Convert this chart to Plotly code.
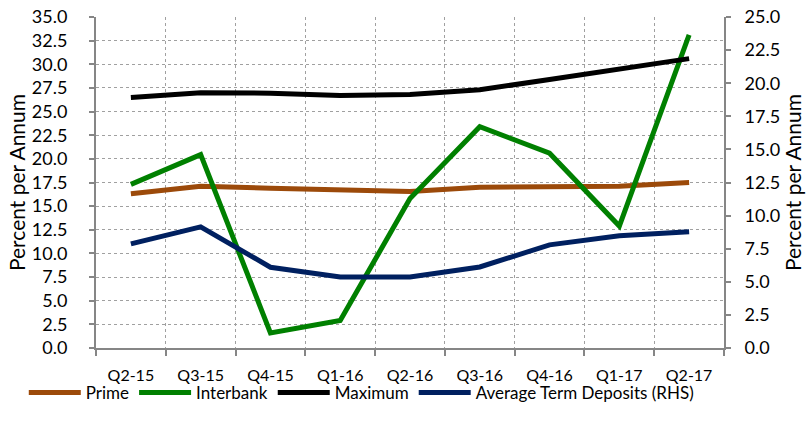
import plotly.graph_objects as go

quarters = ["Q2-15", "Q3-15", "Q4-15", "Q1-16", "Q2-16", "Q3-16", "Q4-16", "Q1-17", "Q2-17"]
prime = [16.3, 17.1, 16.9, 16.7, 16.55, 17.0, 17.05, 17.1, 17.5]
interbank = [17.3, 20.45, 1.6, 2.9, 15.8, 23.4, 20.6, 12.9, 33.1]
maximum = [26.5, 27.0, 26.95, 26.7, 26.8, 27.3, 28.4, 29.55, 30.6]
avg_term_rhs = [7.86, 9.15, 6.1, 5.36, 5.36, 6.12, 7.79, 8.48, 8.78]

FONT = "Lato"
fig = go.Figure()
fig.add_trace(go.Scatter(x=quarters, y=prime, name="Prime", mode="lines",
                         line=dict(color="#9C4A0A", width=5)))
fig.add_trace(go.Scatter(x=quarters, y=interbank, name="Interbank", mode="lines",
                         line=dict(color="#008000", width=5)))
fig.add_trace(go.Scatter(x=quarters, y=maximum, name="Maximum", mode="lines",
                         line=dict(color="#000000", width=5)))
fig.add_trace(go.Scatter(x=quarters, y=avg_term_rhs, name="Average Term Deposits (RHS)", mode="lines",
                         line=dict(color="#002060", width=5), yaxis="y2"))

fig.update_layout(
    width=807, height=423,
    margin=dict(l=96, r=83, t=17, b=70),
    paper_bgcolor="white", plot_bgcolor="white",
    font=dict(family=FONT, size=17, color="#000000"),
    showlegend=True,
    legend=dict(orientation="h", x=-0.115, xanchor="left",
                y=-0.19, yanchor="bottom",
                font=dict(size=17), itemwidth=52, tracegroupgap=0, borderwidth=0,
                bgcolor="rgba(0,0,0,0)"),
    xaxis=dict(type="category", tickson="boundaries", range=[-0.5, 8.5], automargin=False,
               showgrid=True, gridcolor="#a0a0a0", griddash="dot", gridwidth=1,
               showline=True, linecolor="#868686", linewidth=2,
               ticks="outside", ticklen=6, tickcolor="#868686", tickwidth=1.5,
               ticklabelstandoff=12,
               tickfont=dict(size=16)),
    yaxis=dict(range=[0, 35], dtick=2.5, tick0=0, tickformat=".1f", automargin=False,
               showgrid=True, gridcolor="#a0a0a0", griddash="dot", gridwidth=1,
               showline=True, linecolor="#868686", linewidth=2,
               ticks="outside", ticklen=5, tickcolor="#868686", tickwidth=1.5,
               ticklabelstandoff=18,
               zeroline=False,
               title=dict(text="Percent per Annum", font=dict(size=21), standoff=0),
               tickfont=dict(size=18)),
    yaxis2=dict(range=[0, 25], dtick=2.5, tick0=0, tickformat=".1f", automargin=False,
                overlaying="y", side="right", showgrid=False, zeroline=False,
                showline=True, linecolor="#868686", linewidth=2,
                ticks="outside", ticklen=5, tickcolor="#868686", tickwidth=1.5,
                ticklabelstandoff=10,
                title=dict(text="Percent per Annum", font=dict(size=21), standoff=4),
                tickfont=dict(size=18)),
)

fig.write_html("out.html", config={"displayModeBar": False},
               post_script="document.body.style.margin='0';document.body.style.overflow='hidden';")
